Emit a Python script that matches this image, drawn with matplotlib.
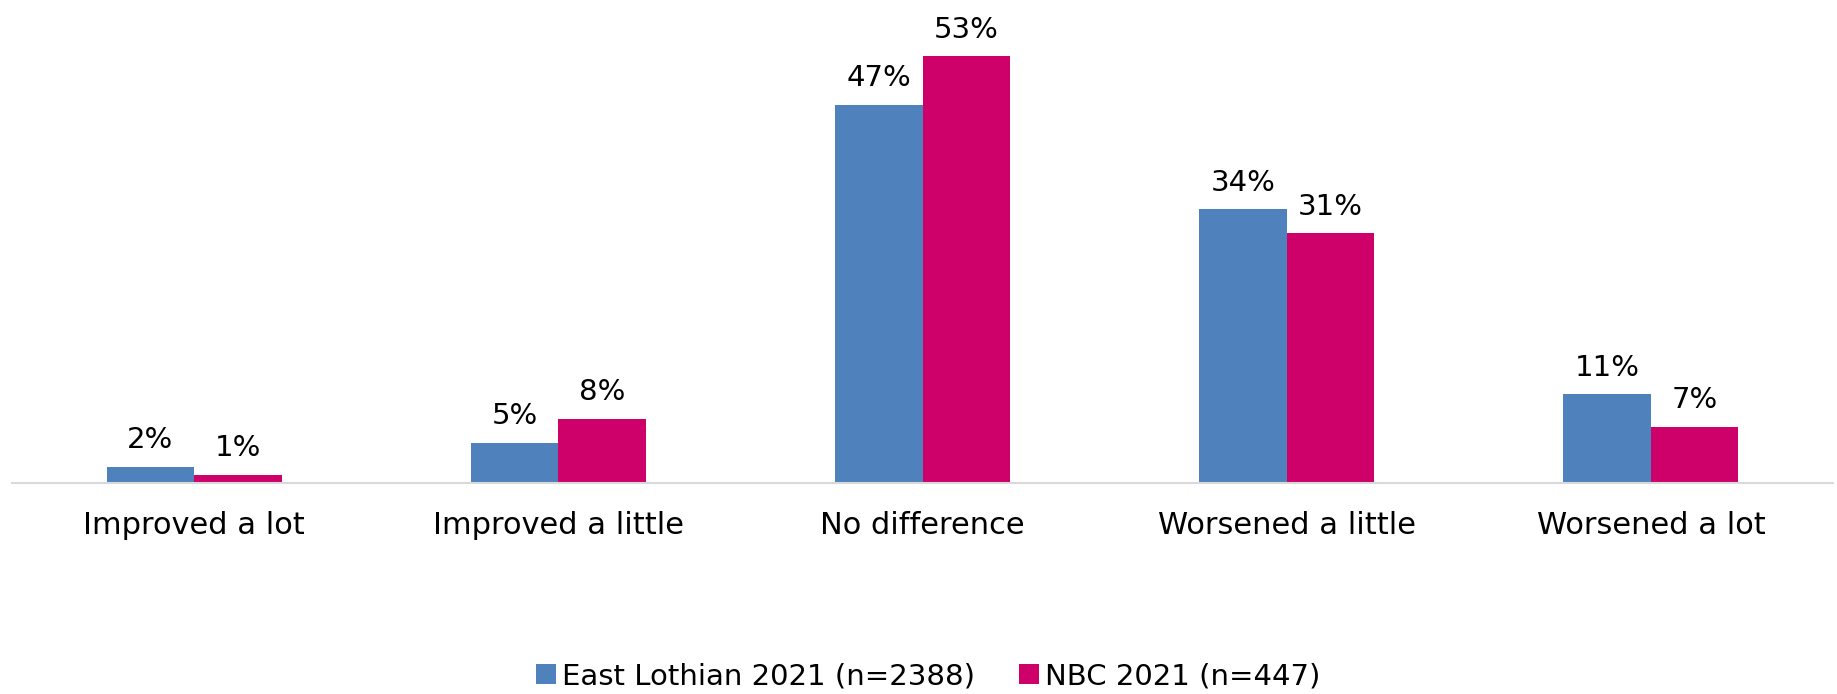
import matplotlib.pyplot as plt
import numpy as np

categories = ["Improved a lot", "Improved a little", "No difference", "Worsened a little", "Worsened a lot"]
east_lothian = [2, 5, 47, 34, 11]
nbc = [1, 8, 53, 31, 7]
series_names = ["East Lothian 2021 (n=2388)", "NBC 2021 (n=447)"]
colors = ["#4F81BD", "#CE0069"]

plt.rcParams['font.family'] = ['DejaVu Sans']

W, H = 1837, 694
fig = plt.figure(figsize=(W / 100, H / 100), dpi=100)
ax = fig.add_axes([12 / W, 1 - 483 / H, (1833 - 12) / W, 483 / H])

x = np.arange(len(categories))
bw = 0.24
for vals, off, c, name in [(east_lothian, -bw / 2, colors[0], series_names[0]),
                           (nbc, bw / 2, colors[1], series_names[1])]:
    bars = ax.bar(x + off, vals, bw, color=c, label=name)
    for b, v in zip(bars, vals):
        ax.annotate(f"{v}%", (b.get_x() + b.get_width() / 2, b.get_height()),
                    xytext=(0, 9), textcoords="offset points",
                    ha="center", va="bottom", fontsize=21, color="#000000")

ax.set_xlim(-0.5, len(categories) - 0.5)
ax.set_ylim(0, 60)
ax.set_yticks([])
ax.set_xticks(x)
ax.set_xticklabels(categories, fontsize=22)
ax.tick_params(axis="x", length=0, pad=20)
for s in ["top", "right", "left"]:
    ax.spines[s].set_visible(False)
ax.spines["bottom"].set_color("#d9d9d9")
ax.spines["bottom"].set_linewidth(1.5)

leg = fig.legend(loc="center", bbox_to_anchor=(928 / W, 1 - 676 / H), ncol=2,
                 frameon=False, fontsize=21, handlelength=0.7, handleheight=0.7,
                 handletextpad=0.2, columnspacing=1.5)

fig.savefig("out.png", dpi=100)
